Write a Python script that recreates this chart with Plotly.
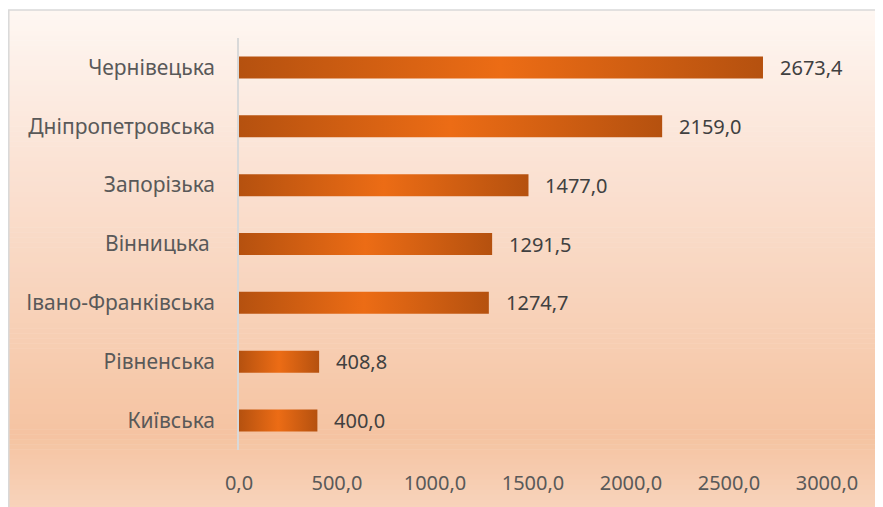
import plotly.graph_objects as go

# regions from top to bottom, values in the same order
regions = ["Чернівецька", "Дніпропетровська", "Запорізька", "Вінницька\u00a0",
           "Івано-Франківська", "Рівненська", "Київська"]
values = [2673.4, 2159.0, 1477.0, 1291.5, 1274.7, 408.8, 400.0]

x_ticks = [0, 500, 1000, 1500, 2000, 2500, 3000]
x_tick_labels = ["0,0", "500,0", "1000,0", "1500,0", "2000,0", "2500,0", "3000,0"]

W, H = 883, 507
OFF = 8  # page body margin
FONT = "Noto Sans"


def px(x):
    return (x - OFF) / W


def py(y):
    return 1 - (y - OFF) / H


def fmt(v):
    return f"{v:.1f}".replace(".", ",")


def mix(c1, c2, t):
    a = [int(c1[i:i + 2], 16) for i in (1, 3, 5)]
    b = [int(c2[i:i + 2], 16) for i in (1, 3, 5)]
    return "rgb({},{},{})".format(*[round(x + (y - x) * t) for x, y in zip(a, b)])


fig = go.Figure()

n = len(regions)
half = 0.187
bar_scale = [[0, "#B5510F"], [0.5, "#EC6C15"], [1, "#B5510F"]]

for i, (name, v) in enumerate(zip(regions, values)):
    y = n - 1 - i
    fig.add_trace(go.Scatter(
        x=[0, v, v, 0, 0],
        y=[y - half, y - half, y + half, y + half, y - half],
        mode="lines",
        line=dict(width=0),
        fill="toself",
        fillgradient=dict(type="horizontal", colorscale=bar_scale),
        hoverinfo="skip",
        showlegend=False,
    ))
    fig.add_annotation(
        x=v, y=y, text=fmt(v), showarrow=False,
        xanchor="left", xshift=15,
        font=dict(family=FONT, size=20, color="#404040"),
    )

# background gradient of the chart frame (top light -> peach)
stops = [(10, "#FEF7F3"), (150, "#FBE4D7"), (300, "#F8D3BB"),
         (435, "#F5C3A1"), (515, "#F8D5BE")]
shapes = []
steps = 100
y0, y1 = 10, 515
for k in range(steps):
    p_top = y0 + (y1 - y0) * k / steps
    p_bot = y0 + (y1 - y0) * (k + 1) / steps
    pm = (p_top + p_bot) / 2
    for (a, ca), (b, cb) in zip(stops, stops[1:]):
        if a <= pm <= b:
            col = mix(ca, cb, (pm - a) / (b - a))
            break
    shapes.append(dict(
        type="rect", xref="paper", yref="paper", layer="below",
        x0=0, x1=1, y0=py(p_bot) - 0.001, y1=py(p_top),
        fillcolor=col, line=dict(width=0),
    ))
shapes.append(dict(
    type="rect", xref="paper", yref="paper", layer="below",
    x0=0.8 / W, x1=px(882), y0=0, y1=py(10),
    line=dict(color="#D9D9D9", width=1.5), fillcolor="rgba(0,0,0,0)",
))

fig.update_layout(
    width=W, height=H,
    margin=dict(l=0, r=0, t=0, b=0),
    paper_bgcolor="white",
    plot_bgcolor="rgba(0,0,0,0)",
    shapes=shapes,
    font=dict(family=FONT),
    xaxis=dict(
        domain=[px(239), px(827)], range=[0, 3000], automargin=False,
        tickvals=x_ticks, ticktext=x_tick_labels,
        showgrid=False, zeroline=False, showline=False,
        ticks="", ticklabelstandoff=19,
        tickfont=dict(family=FONT, size=20, color="#595959"),
    ),
    yaxis=dict(
        domain=[py(450), py(38)], range=[-0.5, n - 0.5], automargin=False,
        tickvals=[n - 1 - i for i in range(n)], ticktext=regions,
        showgrid=False, zeroline=False,
        showline=True, linecolor="#D9D9D9", linewidth=1.5,
        ticks="", ticklabelstandoff=18,
        tickfont=dict(family=FONT, size=21, color="#595959"),
    ),
)

fig.write_html("out.html")
